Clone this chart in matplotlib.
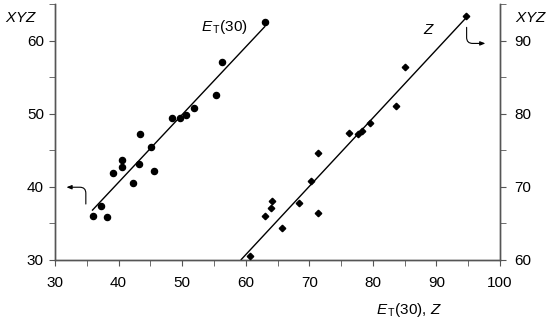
import matplotlib
matplotlib.use("Agg")
import matplotlib.pyplot as plt
import numpy as np

plt.rcParams['font.family'] = ['Liberation Sans', 'DejaVu Sans']
plt.rcParams['mathtext.fontset'] = 'custom'
plt.rcParams['mathtext.rm'] = 'Liberation Sans'
plt.rcParams['mathtext.it'] = 'Liberation Sans:italic'

# ET(30) series (left axis)
et_x = [63.0, 56.2, 55.3, 51.9, 50.6, 49.7, 48.4, 43.3, 45.05, 40.6, 40.5,
        43.2, 39.1, 45.5, 42.2, 37.3, 35.9, 38.2]
et_y = [62.6, 57.0, 52.6, 50.7, 49.75, 49.4, 49.4, 47.25, 45.4, 43.6, 42.7,
        43.05, 41.8, 42.1, 40.5, 37.35, 36.0, 35.85]
et_fit_x = [35.9, 63.0]
et_fit_y = [36.77, 61.9]

# Z series (right axis)
z_x = [94.65, 85.06, 83.6, 79.55, 78.3, 77.7, 76.3, 71.3, 70.3, 68.4, 71.3,
       65.65, 64.2, 63.9, 63.1, 60.6]
z_y = [93.3, 86.35, 81.05, 78.75, 77.6, 77.25, 77.3, 74.6, 70.7, 67.7, 66.35,
       64.35, 67.95, 67.1, 65.9, 60.5]
z_fit_x = [59.3, 94.65]
z_fit_y = [60.0, 93.1]

x_ticks = [30, 40, 50, 60, 70, 80, 90, 100]
left_ticks = [30, 40, 50, 60]
right_ticks = [60, 70, 80, 90]

fig = plt.figure(figsize=(5.5, 3.27), dpi=100)
ax = fig.add_axes([55/550, 1-259.5/327, 445/550, 255.5/327])
ax2 = ax.twinx()

spine_col = '#555555'
for a in (ax, ax2):
    a.spines['top'].set_visible(False)
    for s in a.spines.values():
        s.set_color(spine_col)
        s.set_linewidth(1.0)

ax.set_xlim(30, 100)
ax.set_ylim(30, 65)
ax2.set_ylim(60, 95)

ax.set_xticks(x_ticks)
ax.set_xticks(np.arange(35, 100, 10), minor=True)
ax.set_yticks(left_ticks)
ax.set_yticks([35, 45, 55, 65], minor=True)
ax2.set_yticks(right_ticks)
ax2.set_yticks([65, 75, 85, 95], minor=True)

fs = 11
ax.tick_params(axis='x', which='both', direction='out', length=4, color=spine_col, pad=8, labelsize=fs)
ax.tick_params(axis='y', which='both', direction='out', length=4, color=spine_col, pad=4, labelsize=fs)
ax2.tick_params(axis='y', which='both', direction='out', length=4, color=spine_col, pad=6, labelsize=fs)

ax.plot(et_x, et_y, 'o', color='black', markersize=4.4, zorder=3)
ax.plot(et_fit_x, et_fit_y, '-', color='black', linewidth=1.0)
ax2.plot(z_x, z_y, 'D', color='black', markersize=3.3, zorder=3)
ax2.plot(z_fit_x, z_fit_y, '-', color='black', linewidth=1.0)

ax.text(56.7, 61.9, r'$E_{\,\rm T}$(30)', fontsize=fs, ha='center', va='center')
ax.text(88.8, 61.5, r'$Z$', fontsize=fs, ha='center', va='center')

ax.annotate('', xy=(31.8, 39.9), xytext=(34.85, 37.6),
            arrowprops=dict(arrowstyle='-|>,head_length=0.3,head_width=0.12',
                            color='black', lw=0.8,
                            connectionstyle='angle,angleA=90,angleB=0,rad=6',
                            shrinkA=0, shrinkB=0))
ax.annotate('', xy=(97.7, 59.6), xytext=(94.75, 61.8),
            arrowprops=dict(arrowstyle='-|>,head_length=0.3,head_width=0.12',
                            color='black', lw=0.8,
                            connectionstyle='angle,angleA=-90,angleB=0,rad=6',
                            shrinkA=0, shrinkB=0))

fig.text(21/550, 1-18/327, r'$XYZ$', fontsize=fs, ha='center', va='center')
fig.text(531/550, 1-18/327, r'$XYZ$', fontsize=fs, ha='center', va='center')
fig.text(409/550, 1-310/327, r'$E_{\,\rm T}$(30), $Z$', fontsize=fs, ha='center', va='center')

fig.savefig('out.png', dpi=100)
